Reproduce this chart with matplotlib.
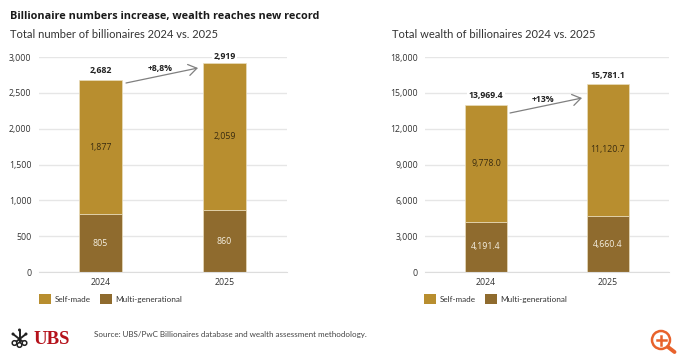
import numpy as np
import matplotlib
matplotlib.use("Agg")
import matplotlib.pyplot as plt
from matplotlib.patches import Circle, Rectangle

plt.rcParams['font.family'] = ['Open Sans', 'DejaVu Sans']

# --- data ---
years = ["2024", "2025"]
count_self = [1877, 2059]
count_multi = [805, 860]
count_total = ["2,682", "2,919"]
count_self_labels = ["1,877", "2,059"]
count_multi_labels = ["805", "860"]
count_ticks = [0, 500, 1000, 1500, 2000, 2500, 3000]

wealth_self = [9778.0, 11120.7]
wealth_multi = [4191.4, 4660.4]
wealth_total = ["13,969.4", "15,781.1"]
wealth_self_labels = ["9,778.0", "11,120.7"]
wealth_multi_labels = ["4,191.4", "4,660.4"]
wealth_ticks = [0, 3000, 6000, 9000, 12000, 15000, 18000]

GOLD = "#B88E2F"
BROWN = "#8F6B2E"
GRID = "#E6E6E6"
TEXT = "#333333"
W, H = 680, 358

fig = plt.figure(figsize=(W / 100, H / 100), dpi=100, facecolor="white")


# pixel box (top-left origin) to figure fractions
def add_axes_px(left, right, top, bottom):
    return fig.add_axes([left / W, 1 - bottom / H, (right - left) / W, (bottom - top) / H])


def stacked(ax, multi, selfmade, totals, self_labels, multi_labels, ticks, gaps):
    x = np.arange(len(years))
    ax.set_axisbelow(True)
    ax.bar(x, multi, 0.35, color=BROWN, edgecolor="#E9DDBE", linewidth=0.5)
    ax.bar(x, selfmade, 0.35, bottom=multi, color=GOLD, edgecolor="#E9DDBE", linewidth=0.5)
    for i in x:
        ax.text(i, multi[i] / 2, multi_labels[i], ha="center", va="center",
                fontsize=6.3, color="#F5F0E2")
        ax.text(i, multi[i] + selfmade[i] / 2, self_labels[i], ha="center", va="center",
                fontsize=6.3, color="#3A2C10")
        ax.annotate(totals[i], (i, multi[i] + selfmade[i]), xytext=(0, gaps[i] * 0.72),
                    textcoords="offset points", ha="center", va="center",
                    fontsize=6.3, fontweight="bold", color="#222222", annotation_clip=False,
                    bbox=dict(facecolor="white", edgecolor="none", pad=1.0))
    ax.set_xlim(-0.5, 1.5)
    ax.set_ylim(0, ticks[-1])
    ax.set_xticks(x, years)
    ax.set_yticks(ticks, [f"{t:,}" for t in ticks])
    ax.tick_params(length=0, labelsize=6.3, labelcolor=TEXT)
    ax.tick_params(axis="y", pad=5)
    ax.tick_params(axis="x", pad=4.5)
    ax.grid(axis="y", color=GRID, linewidth=1)
    for s in ["top", "right", "left"]:
        ax.spines[s].set_visible(False)
    ax.spines["bottom"].set_color("#DDDDDD")


ax1 = add_axes_px(38.5, 286.5, 57, 272)
stacked(ax1, count_multi, count_self, count_total, count_self_labels, count_multi_labels,
        count_ticks, (9, 6))
ax2 = add_axes_px(425, 669, 57, 272)
stacked(ax2, wealth_multi, wealth_self, wealth_total, wealth_self_labels, wealth_multi_labels,
        wealth_ticks, (10, 8))

# overlay in image pixels for everything outside the plots
ov = fig.add_axes([0, 0, 1, 1], facecolor="none")
ov.set_xlim(0, W)
ov.set_ylim(H, 0)
ov.axis("off")

# growth arrows
for start, end, pct, pos in [((126, 83), (198, 68), "+8,8%", (160, 68)),
                             ((510, 113), (582, 98), "+13%", (543, 99))]:
    ov.annotate("", xy=end, xytext=start,
                arrowprops=dict(arrowstyle="->,head_length=0.6,head_width=0.4", color="#808080",
                                lw=0.9, shrinkA=0, shrinkB=0))
    ov.text(pos[0], pos[1], pct, ha="center", va="center", fontsize=6.3, fontweight="bold",
            color="#222222")

# titles
ov.text(10, 16.5, "Billionaire numbers increase, wealth reaches new record", fontsize=7.8,
        fontweight="bold", color="#1a1a1a", va="center")
ov.text(10, 34.5, "Total number of billionaires 2024 vs. 2025", fontsize=8.05, color=TEXT, va="center",
        family="Lato")
ov.text(392, 34.5, "Total wealth of billionaires 2024 vs. 2025", fontsize=8.05, color=TEXT, va="center",
        family="Lato")

# legends
for x0 in [38.5, 423.5]:
    for off, col, name, tx in [(0, GOLD, "Self-made", 16), (61, BROWN, "Multi-generational", 77)]:
        ov.add_patch(Rectangle((x0 + off, 294), 12.5, 10, facecolor=col, edgecolor="none"))
        ov.text(x0 + tx, 299.5, name, fontsize=5.9, color=TEXT, va="center", family="Lato")

# source
ov.text(94, 335, "Source: UBS/PwC Billionaires database and wealth assessment methodology.",
        fontsize=5.8, color="#444444", va="center", family="Lato")

# UBS logo, three crossed keys
ov.text(33.5, 339, "UBS", fontsize=13.5, fontweight="bold", color="#B5121B", va="center",
        family="Liberation Serif")
for top, ring in [((19.5, 330), (19.5, 345)), ((13, 334), (24.5, 343)), ((26, 334), (14.5, 343))]:
    ov.plot([top[0], ring[0]], [top[1], ring[1]], color="#222222", lw=1.4, solid_capstyle="butt")
    ov.add_patch(Circle(ring, 2.3, facecolor="white", edgecolor="#222222", lw=1.1, zorder=3))
    ov.add_patch(Circle(top, 1.5, facecolor="#222222", edgecolor="none"))

# zoom icon, bottom right
ORANGE = "#E8622C"
ov.add_patch(Circle((661, 340), 9, facecolor="none", edgecolor=ORANGE, lw=1.8))
ov.plot([668, 674.5], [347, 352], color=ORANGE, lw=2.8, solid_capstyle="round")
ov.plot([656.5, 665.5], [340, 340], color=ORANGE, lw=1.8)
ov.plot([661, 661], [335.5, 344.5], color=ORANGE, lw=1.8)

fig.savefig("out.png", dpi=100)
